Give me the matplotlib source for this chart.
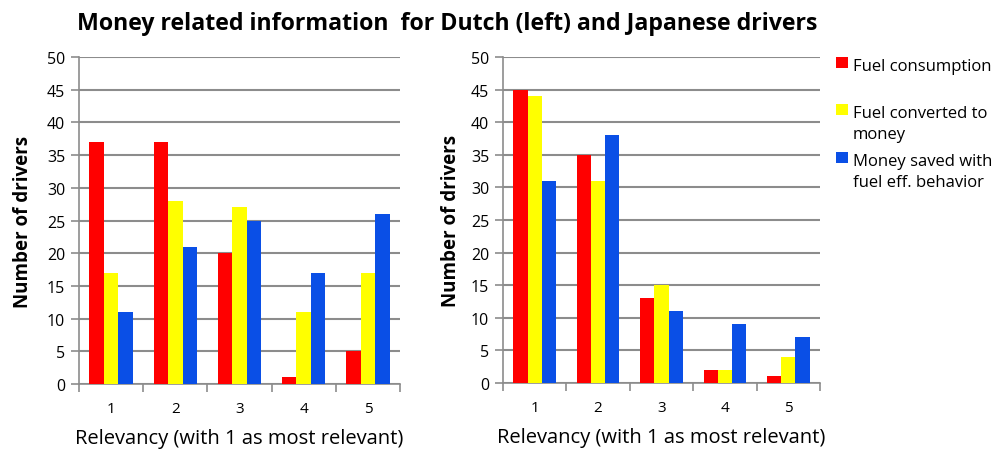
import numpy as np
import matplotlib.pyplot as plt
from matplotlib.patches import Rectangle

plt.rcParams['font.family'] = ['Open Sans', 'DejaVu Sans']

relevancy = ['1', '2', '3', '4', '5']
series_names = ['Fuel consumption', 'Fuel converted to\nmoney',
                'Money saved with\nfuel eff. behavior']
colors = ['#ff0000', '#ffff00', '#0a4fe6']

# Dutch drivers
dutch_fuel = [37, 37, 20, 1, 5]
dutch_money = [17, 28, 27, 11, 17]
dutch_saved = [11, 21, 25, 17, 26]

# Japanese drivers
japan_fuel = [45, 35, 13, 2, 1]
japan_money = [44, 31, 15, 2, 4]
japan_saved = [31, 38, 11, 9, 7]

fig = plt.figure(figsize=(10.05, 4.52), dpi=100)
W, H = 1005, 452
ax_left = fig.add_axes([79 / W, 1 - 385 / H, 321 / W, 327 / H])
ax_right = fig.add_axes([503 / W, 1 - 384 / H, 317 / W, 326 / H])

x = np.arange(len(relevancy))
bw = 0.225


def draw(ax, groups, ypad):
    for i, (vals, c) in enumerate(zip(groups, colors)):
        ax.bar(x + (i - 1) * bw, vals, bw, color=c, zorder=3)
    ax.set_xlim(-0.5, len(relevancy) - 0.5)
    ax.set_ylim(0, 50)
    ax.set_yticks(range(0, 51, 5))
    ax.yaxis.grid(True, color='#8c8c8c', linewidth=1.5, zorder=0)
    ax.set_xticks(x)
    ax.set_xticklabels(relevancy)
    ax.set_xticks(np.arange(-0.5, len(relevancy)), minor=True)
    ax.tick_params(axis='x', which='major', length=0, labelsize=11, pad=12)
    ax.tick_params(axis='x', which='minor', length=6, color='#8c8c8c', width=1.2)
    ax.tick_params(axis='y', length=6, color='#8c8c8c', width=1.2, labelsize=11.5, pad=4)
    for s in ['top', 'right']:
        ax.spines[s].set_visible(False)
    for s in ['left', 'bottom']:
        ax.spines[s].set_color('#8c8c8c')
        ax.spines[s].set_linewidth(1.2)
    ax.set_ylabel('Number of drivers', fontsize=13.5, fontweight='bold', labelpad=ypad)
    ax.set_xlabel('Relevancy (with 1 as most relevant)', fontsize=14.5, labelpad=9)


draw(ax_left, [dutch_fuel, dutch_money, dutch_saved], 10)
draw(ax_right, [japan_fuel, japan_money, japan_saved], 7)

# legend, square aligned with the first line of each entry
legend_top = [58, 105, 153]
for name, c, top in zip(series_names, colors, legend_top):
    fig.patches.append(Rectangle((836 / W, 1 - (top + 11) / H), 12 / W, 11 / H,
                                 facecolor=c, edgecolor='none',
                                 transform=fig.transFigure, figure=fig))
    fig.text(853 / W, 1 - (top + 1) / H, name, ha='left', va='top',
             fontsize=12, linespacing=1.4)

fig.text(447 / W, 1 - 24 / H, 'Money related information  for Dutch (left) and Japanese drivers',
         ha='center', va='center', fontsize=16.7, fontweight='bold')

fig.savefig('out.png', dpi=100)
